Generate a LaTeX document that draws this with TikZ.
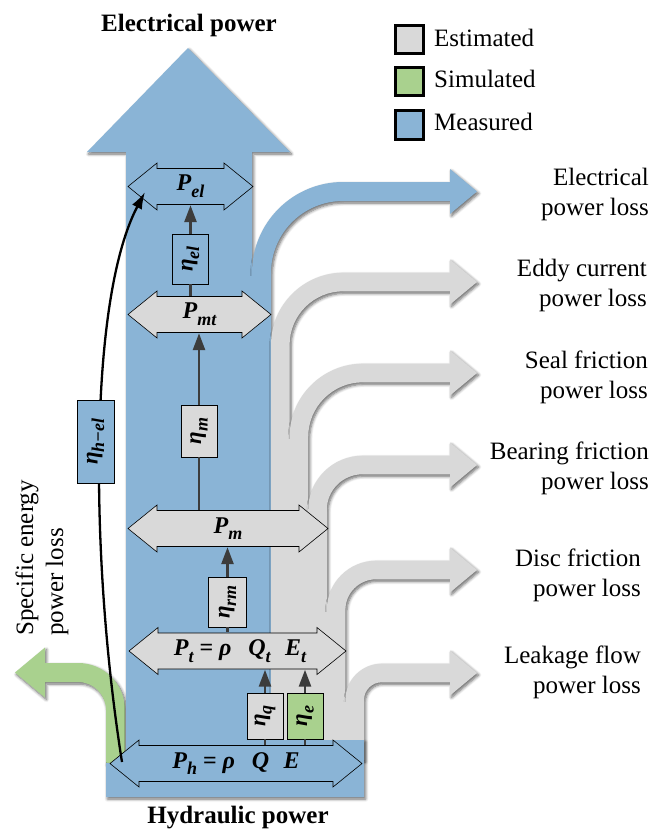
\documentclass[tikz,border=0pt]{standalone}
\usepackage{fontspec}
\setmainfont{Liberation Serif}
\usepackage{graphicx}
\usetikzlibrary{arrows.meta}
\IfFileExists{tikzlibraryshadows.blur.code.tex}
 {\usetikzlibrary{shadows.blur}%
  \tikzset{sh/.style={blur shadow={shadow xshift=1.5pt,shadow yshift=-2pt,shadow blur radius=3pt,shadow blur steps=6,shadow opacity=60}}}}
 {\usetikzlibrary{shadows}%
  \tikzset{sh/.style={drop shadow={shadow xshift=1.5pt,shadow yshift=-2pt,opacity=.3,fill=black}}}}
\definecolor{mblue}{HTML}{8AB4D6}
\definecolor{mgray}{HTML}{D9D9D9}
\definecolor{mgreen}{HTML}{A9D18E}
\definecolor{conncol}{HTML}{3C3C3C}
\newcommand{\sub}[1]{\raisebox{-0.28em}{\fontsize{18}{18}\selectfont #1}}
\tikzset{
  flowblue/.style={fill=mblue,sh},
  flowgray/.style={fill=mgray,sh},
  flowgreen/.style={fill=mgreen,sh},
  dbla/.style={draw=black,line width=0.6pt},
  shaft/.style={inner sep=0pt,minimum height=37pt,minimum width=60pt,font=\fontsize{24}{28}\selectfont\bfseries\itshape},
  effbox/.style={draw=black,line width=0.7pt,inner sep=0pt,minimum width=36pt,minimum height=50pt,font=\fontsize{23}{26}\selectfont\bfseries\itshape},
  conn/.style={draw=conncol,line width=2.7pt},
  connarr/.style={conn,-{Triangle[width=12pt,length=17pt]}},
  legbox/.style={draw=black,line width=3pt,minimum size=28pt,inner sep=0pt},
  legtext/.style={anchor=base west,inner sep=0pt,font=\fontsize{25}{30}\selectfont},
  lab/.style={anchor=east,align=right,inner sep=0pt,font=\fontsize{25}{30}\selectfont},
  titletext/.style={anchor=base,inner sep=0pt,font=\fontsize{25}{30}\selectfont\bfseries}
}
% loss band: #1 centre x, #2 centre y of horizontal part, #3 radius, #4 half width, #5 style
\newcommand{\lossband}[5]{%
 \pgfmathsetmacro\LBxa{#1-#4}\pgfmathsetmacro\LBxb{#1+#4}%
 \pgfmathsetmacro\LBro{#3+#4}\pgfmathsetmacro\LBri{#3-#4}%
 \pgfmathsetmacro\LBys{#2+#3}\pgfmathsetmacro\LBxe{#1+#3}%
 \pgfmathsetmacro\LByt{#2-#4}\pgfmathsetmacro\LByu{#2+#4}%
 \pgfmathsetmacro\LBca{\LBys-0.5523*\LBro}\pgfmathsetmacro\LBcb{\LBxe-0.5523*\LBro}%
 \pgfmathsetmacro\LBcc{\LBxe-0.5523*\LBri}\pgfmathsetmacro\LBcd{\LBys-0.5523*\LBri}%
 \path[#5] (\LBxa,760) -- (\LBxa,\LBys) .. controls (\LBxa,\LBca) and (\LBcb,\LByt) .. (\LBxe,\LByt)
   -- (450,\LByt) -- (450,#2-22.5) -- (477,#2) -- (450,#2+22.5) -- (450,\LByu) -- (\LBxe,\LByu)
   .. controls (\LBcc,\LByu) and (\LBxb,\LBcd) .. (\LBxb,\LBys) -- (\LBxb,760) -- cycle;}
% double arrow outline: #1 x left tip, #2 x right tip, #3 centre y, #4 fill
\newcommand{\dblarrow}[4]{%
 \path[dbla,fill=#4] (#1,#3) -- (#1+29,#3-23.5) -- (#1+29,#3-18) -- (#2-29,#3-18) -- (#2-29,#3-23.5)
   -- (#2,#3) -- (#2-29,#3+23.5) -- (#2-29,#3+18) -- (#1+29,#3+18) -- (#1+29,#3+23.5) -- cycle;}
\begin{document}
\begin{tikzpicture}[x=1pt,y=-1pt]
\useasboundingbox (0,0) rectangle (654,832);

% specific energy loss (green)
\path[flowgreen] (125,763) -- (125,710) .. controls (125,684) and (104,663) .. (78,663) -- (45,663)
  -- (45,647.5) -- (15,672.5) -- (45,697.5) -- (45,682) -- (78,682)
  .. controls (93.5,682) and (106,694.5) .. (106,710) -- (106,763) -- cycle;

% main blue body
\path[flowblue] (106,797) -- (364,797) -- (364,740) -- (252,740) -- (252,152) -- (290,152)
  -- (188,48) -- (87,152) -- (126,152) -- (126,763) -- (106,763) -- cycle;

% loss branches
\lossband{261.5}{191.5}{81.5}{9.5}{flowblue}
\lossband{280.3}{282}{63}{9.3}{flowgray}
\lossband{298.9}{373}{64}{9.3}{flowgray}
\lossband{317.5}{465}{45}{9.3}{flowgray}
\lossband{336.1}{570}{40}{9.3}{flowgray}
\lossband{354.7}{673}{27}{9.3}{flowgray}
% seamless fills below the branch points
\fill[mblue] (240,276) rectangle (266,745);
\fill[mgray] (273,741) -- (273,347) -- (288,347) -- (288,439) -- (306.5,439) -- (306.5,512)
  -- (325,512) -- (325,612) -- (343.5,612) -- (343.5,702) -- (362,702) -- (362,741) -- cycle;
\fill[mblue] (252,740) rectangle (364,797);

% power double arrows
\dblarrow{128}{253}{186.5}{mblue}
\dblarrow{128}{271}{314.5}{mgray}
\dblarrow{128}{328}{528.5}{mgray}
\dblarrow{129}{346}{651}{mgray}
\dblarrow{110}{362}{763.5}{mblue}
\node[shaft] (Pel) at (190.5,186.5) {P\sub{el}};
\node[shaft] (Pmt) at (199.5,314.5) {P\sub{mt}};
\node[shaft] (Pm) at (228,528.5) {P\sub{m}};
\node[shaft] (Pt) at (240,651) {P\sub{t} {\upshape =} ρ\hspace{0.7em}Q\sub{t}\hspace{0.6em}E\sub{t}};
\node[shaft] (Ph) at (236,763.5) {P\sub{h} {\upshape =} ρ\hspace{0.7em}Q\hspace{0.6em}E};

% efficiency boxes and connectors
\node[effbox,fill=mblue] (etael) at (190.5,259) {\rotatebox{90}{η\sub{el}}};
\node[effbox,fill=mgray,minimum height=52pt] (etam) at (199,431) {\rotatebox{90}{η\sub{m}}};
\node[effbox,fill=mgray,minimum width=38pt] (etarm) at (227.5,602) {\rotatebox{90}{η\sub{rm}}};
\node[effbox,fill=mgray,minimum height=46pt] (etaq) at (265,716) {\rotatebox{90}{η\sub{q}}};
\node[effbox,fill=mgreen,minimum height=46pt] (etae) at (305,716) {\rotatebox{90}{η\sub{e}}};

\draw[conn] (etael.south) -- (etael.south |- Pmt.north);
\draw[connarr] (etael.north) -- (etael.north |- Pel.south);
\draw[conn] (etam.south) -- (etam.south |- Pm.north);
\draw[connarr] (etam.north) -- (etam.north |- Pmt.south);
\draw[conn] (etarm.south) -- (etarm.south |- Pt.north);
\draw[connarr] (etarm.north) -- (etarm.north |- Pm.south);
\draw[conn] (etaq.south) -- (etaq.south |- Ph.north);
\draw[connarr] (etaq.north) -- (etaq.north |- Pt.south);
\draw[conn] (etae.south) -- (etae.south |- Ph.north);
\draw[connarr] (etae.north) -- (etae.north |- Pt.south);

% overall efficiency curve
\coordinate (hstart) at (122,762);
\coordinate (elend) at (145,192);
\draw[black,line width=2.3pt,-{Latex[width=11pt,length=17pt]}] (hstart) .. controls (90,560) and (88,300) .. (elend);
\node[effbox,fill=mblue,minimum width=37pt,minimum height=83pt] (etahel) at (95.5,441.5) {\rotatebox{90}{η\sub{h−el}}};

% titles
\node[titletext] (tel) at (189,32) {Electrical power};
\node[titletext] (thy) at (238,823) {Hydraulic power};

% legend
\node[legbox,fill=mgray] (lgE) at (409,40) {};
\node[legbox,fill=mgreen] (lgS) at (409,81.5) {};
\node[legbox,fill=mblue] (lgM) at (409,125) {};
\node[legtext] (lgEt) at (434,47) {Estimated};
\node[legtext] (lgSt) at (434,88) {Simulated};
\node[legtext] (lgMt) at (434,131) {Measured};

% loss labels
\node[lab] (lEl) at (649,194) {Electrical\\power loss};
\node[lab] (lEd) at (647,285) {Eddy current\\power loss};
\node[lab] (lSe) at (648,377) {Seal friction\\power loss};
\node[lab] (lBe) at (649,468) {Bearing friction\\power loss};
\node[lab] (lDi) at (641,575) {Disc friction\\power loss};
\node[lab] (lLe) at (641,672) {Leakage flow\\power loss};
\node[rotate=90,anchor=base west,align=left,inner sep=0pt,font=\fontsize{25}{30}\selectfont] (lSp) at (63,636) {Specific energy\\power loss};
\end{tikzpicture}
\end{document}
